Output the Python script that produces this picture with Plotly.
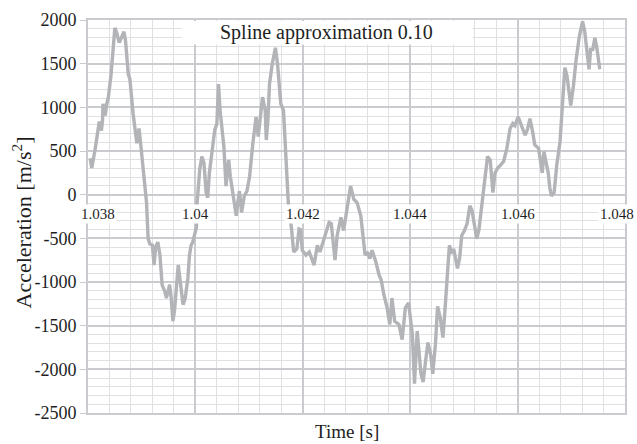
import plotly.graph_objects as go

# Measured acceleration signal (spline approximation, smoothing 0.10)
time_s = [
    1.03804, 1.03807, 1.03813, 1.03818, 1.03821, 1.03825, 1.03827, 1.03828, 1.03832, 1.03835,
    1.03838, 1.03843, 1.03847, 1.03850, 1.03853, 1.03858, 1.03863, 1.03867, 1.03870, 1.03875,
    1.03878, 1.03884, 1.03891, 1.03895, 1.03898, 1.03904, 1.03909, 1.03912, 1.03915, 1.03920,
    1.03923, 1.03926, 1.03930, 1.03934, 1.03938, 1.03943, 1.03946, 1.03949, 1.03952, 1.03955,
    1.03958, 1.03961, 1.03965, 1.03968, 1.03971, 1.03974, 1.03977, 1.03981, 1.03986, 1.03989,
    1.03992, 1.03995, 1.03999, 1.04002, 1.04003, 1.04008, 1.04012, 1.04016, 1.04020, 1.04023,
    1.04026, 1.04032, 1.04036, 1.04040, 1.04043, 1.04046, 1.04050, 1.04053, 1.04057, 1.04062,
    1.04065, 1.04070, 1.04076, 1.04079, 1.04082, 1.04086, 1.04091, 1.04096, 1.04101, 1.04107,
    1.04113, 1.04117, 1.04120, 1.04125, 1.04130, 1.04132, 1.04135, 1.04138, 1.04143, 1.04149,
    1.04153, 1.04159, 1.04164, 1.04167, 1.04173, 1.04179, 1.04183, 1.04189, 1.04193, 1.04196,
    1.04199, 1.04206, 1.04212, 1.04221, 1.04227, 1.04232, 1.04238, 1.04243, 1.04249, 1.04253,
    1.04260, 1.04264, 1.04271, 1.04276, 1.04280, 1.04284, 1.04289, 1.04295, 1.04301, 1.04308,
    1.04316, 1.04320, 1.04325, 1.04329, 1.04336, 1.04342, 1.04346, 1.04351, 1.04357, 1.04362,
    1.04366, 1.04371, 1.04379, 1.04385, 1.04391, 1.04397, 1.04404, 1.04408, 1.04413, 1.04420,
    1.04424, 1.04428, 1.04433, 1.04438, 1.04442, 1.04447, 1.04451, 1.04456, 1.04461, 1.04465,
    1.04470, 1.04473, 1.04478, 1.04481, 1.04488, 1.04492, 1.04496, 1.04501, 1.04506, 1.04511,
    1.04515, 1.04518, 1.04524, 1.04528, 1.04533, 1.04538, 1.04544, 1.04549, 1.04554, 1.04558,
    1.04563, 1.04569, 1.04574, 1.04580, 1.04586, 1.04591, 1.04595, 1.04601, 1.04608, 1.04614,
    1.04618, 1.04623, 1.04628, 1.04632, 1.04639, 1.04643, 1.04646, 1.04649, 1.04653, 1.04657,
    1.04660, 1.04663, 1.04668, 1.04673, 1.04679, 1.04684, 1.04688, 1.04692, 1.04697, 1.04699,
    1.04704, 1.04709, 1.04715, 1.04721, 1.04725, 1.04730, 1.04733, 1.04736, 1.04740, 1.04744,
    1.04748, 1.04753,
]
acceleration = [
    418, 305, 509, 735, 837, 735, 848, 1040, 905, 1040,
    1120, 1380, 1640, 1911, 1866, 1742, 1810, 1866, 1753, 1380,
    1323, 927, 588, 758, 588, 215, -90, -505, -562, -580,
    -806, -600, -543, -693, -1033, -1108, -1184, -1108, -1030, -1184,
    -1448, -1335, -995, -806, -957, -1108, -1259, -1184, -957, -693,
    -580, -543, -430, -373, -110, 286, 437, 362, 23, -34,
    249, 512, 739, 814, 1267, 965, 739, 551, 98, 399,
    211, -15, -241, -90, 41, -204, -15, 41, 211, 588,
    890, 664, 852, 1116, 965, 626, 852, 1267, 1493, 1682,
    1493, 1041, 965, 588, -90, -392, -656, -618, -392, -400,
    -637, -693, -656, -806, -580, -656, -543, -430, -317, -330,
    -750, -467, -260, -411, -260, -128, 98, -53, -90, -241,
    -693, -656, -731, -637, -769, -920, -976, -1146, -1297, -1485,
    -1184, -1448, -1485, -1660, -1297, -1241, -1598, -2164, -1561, -2051,
    -2145, -1938, -1693, -1825, -2051, -1712, -1278, -1410, -1636, -1297,
    -806, -580, -675, -620, -844, -730, -467, -411, -330, -128,
    -180, -279, -505, -400, -128, 155, 437, 399, 23, 249,
    305, 343, 381, 531, 758, 814, 790, 890, 777, 682,
    740, 871, 720, 569, 531, 381, 249, 494, 381, 250,
    79, -15, 23, 343, 607, 1021, 1455, 1361, 1059, 1021,
    1248, 1549, 1813, 1983, 1870, 1625, 1436, 1663, 1663, 1795,
    1663, 1436,
]

x_ticks = [1.038, 1.040, 1.042, 1.044, 1.046, 1.048]
x_tick_text = ["1.038", "1.04", "1.042", "1.044", "1.046", "1.048"]
y_ticks = [2000, 1500, 1000, 500, 0, -500, -1000, -1500, -2000, -2500]

chart_title = "Spline approximation 0.10"
x_title = "Time [s]"
y_title = "Acceleration [m/s<sup>2</sup>]"

SERIF = "Liberation Serif, Times New Roman, serif"
TEXT = "#1e1e1e"
MINOR_GRID = "#dfe0e3"
MAJOR_GRID = "#c9cbcf"

fig = go.Figure()
fig.add_trace(go.Scatter(
    x=time_s, y=acceleration, mode="lines",
    line=dict(color="#b3b4b7", width=3.4),
    hoverinfo="skip", showlegend=False,
))

# x tick labels sit on the zero line with an opaque background
shifts = {0: 10, len(x_ticks) - 1: -8}
for i, (t, label) in enumerate(zip(x_ticks, x_tick_text)):
    fig.add_annotation(
        x=t, y=0, xref="x", yref="y", text=label, showarrow=False,
        xanchor="center", yanchor="top", yshift=-9, xshift=shifts.get(i, 0),
        bgcolor="white", borderpad=1,
        font=dict(family=SERIF, size=15, color=TEXT),
    )

# title box inside the plot area
fig.add_shape(type="rect", xref="x", yref="y",
              x0=1.039745, x1=1.04516, y0=1720, y1=1988,
              fillcolor="white", line=dict(width=0), layer="above")
fig.add_annotation(
    x=(1.039745 + 1.04516) / 2 - 0.00001, y=1856, xref="x", yref="y",
    text=chart_title, showarrow=False, xanchor="center", yanchor="middle",
    font=dict(family=SERIF, size=20, color=TEXT),
)

# axis titles
fig.add_annotation(
    x=0.5, y=0, xref="paper", yref="paper",
    text=x_title, showarrow=False, xanchor="center", yanchor="top",
    xshift=-10, yshift=-6,
    font=dict(family=SERIF, size=19, color=TEXT),
)
fig.add_annotation(
    x=0, y=0.5, xref="paper", yref="paper", text=y_title, showarrow=False,
    textangle=-90, xanchor="center", yanchor="middle", xshift=-67, yshift=-6,
    font=dict(family=SERIF, size=22, color=TEXT),
)

fig.update_xaxes(
    range=[1.038, 1.048], tickvals=x_ticks, showticklabels=False,
    showgrid=True, gridcolor=MAJOR_GRID, gridwidth=1.6,
    minor=dict(dtick=0.0004, tick0=1.038, showgrid=True, gridcolor=MINOR_GRID, gridwidth=1.4),
    zeroline=False, showline=True, linecolor=MAJOR_GRID, linewidth=1.6, mirror=True,
    fixedrange=True,
)
fig.update_yaxes(
    range=[-2500, 2000], tickvals=y_ticks, ticktext=[str(v) for v in y_ticks],
    showgrid=True, gridcolor=MAJOR_GRID, gridwidth=1.6,
    minor=dict(dtick=100, tick0=0, showgrid=True, gridcolor=MINOR_GRID, gridwidth=1.4),
    zeroline=False, showline=True, linecolor=MAJOR_GRID, linewidth=1.6, mirror=True,
    ticks="outside", ticklen=6, tickcolor=MAJOR_GRID, tickwidth=1.4,
    tickfont=dict(family=SERIF, size=18, color=TEXT),
    fixedrange=True,
)

fig.update_layout(
    width=637, height=444,
    margin=dict(l=88, r=10, t=15, b=31),
    paper_bgcolor="white", plot_bgcolor="white",
    showlegend=False,
)

fig.write_html("out.html", config=dict(displayModeBar=False))
